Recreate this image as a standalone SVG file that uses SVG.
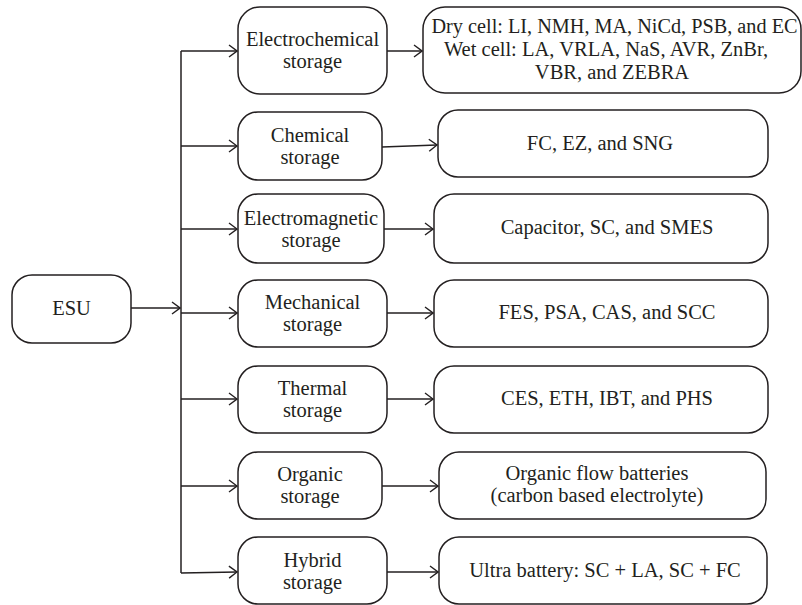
<svg xmlns="http://www.w3.org/2000/svg" width="802" height="605" viewBox="0 0 802 605">
<style>
.b{fill:#fff;stroke:#231f20;stroke-width:1.5}
.t{font-family:'Liberation Serif','Times New Roman',serif;font-size:20.5px;fill:#231f20;text-anchor:middle}
.c{fill:none;stroke:#231f20;stroke-width:1.5}
</style>
<defs>
<marker id="a" markerWidth="10" markerHeight="14" refX="9" refY="7" orient="auto" markerUnits="userSpaceOnUse">
<path d="M1,1 L9,7 L1,13" fill="none" stroke="#231f20" stroke-width="1.4"/>
</marker>
</defs>
<rect width="802" height="605" fill="#fff"/>
<g id="connectors">
<path class="c" d="M131,308 H180" marker-end="url(#a)"/>
<path class="c" d="M181,51 V573"/>
<path class="c" d="M181,51 H237" marker-end="url(#a)"/>
<path class="c" d="M181,146 H237" marker-end="url(#a)"/>
<path class="c" d="M181,229 H237" marker-end="url(#a)"/>
<path class="c" d="M181,313 H237" marker-end="url(#a)"/>
<path class="c" d="M181,399 H237" marker-end="url(#a)"/>
<path class="c" d="M181,486 H237" marker-end="url(#a)"/>
<path class="c" d="M181,573 L237,572" marker-end="url(#a)"/>
<path class="c" d="M387,51 H422" marker-end="url(#a)"/>
<path class="c" d="M382,147 L437,145" marker-end="url(#a)"/>
<path class="c" d="M384,229 H433" marker-end="url(#a)"/>
<path class="c" d="M387,313 H433" marker-end="url(#a)"/>
<path class="c" d="M387,399 H433" marker-end="url(#a)"/>
<path class="c" d="M382,486 H438" marker-end="url(#a)"/>
<path class="c" d="M387,572 H438" marker-end="url(#a)"/>
</g>
<g id="esu"><rect class="b" x="12" y="275" width="119" height="68" rx="20"/><text class="t" x="71.5" y="315">ESU</text></g>
<g id="electrochemical"><rect class="b" x="238" y="7" width="149" height="87" rx="22"/><text class="t" x="312.5" y="46">Electrochemical</text><text class="t" x="312.5" y="68">storage</text></g>
<g id="chemical"><rect class="b" x="238" y="112" width="144" height="68" rx="20"/><text class="t" x="310" y="142">Chemical</text><text class="t" x="310" y="164">storage</text></g>
<g id="electromagnetic"><rect class="b" x="238" y="194" width="146" height="69" rx="20"/><text class="t" x="311" y="225">Electromagnetic</text><text class="t" x="311" y="247">storage</text></g>
<g id="mechanical"><rect class="b" x="238" y="280" width="149" height="67" rx="20"/><text class="t" x="312.5" y="309">Mechanical</text><text class="t" x="312.5" y="331">storage</text></g>
<g id="thermal"><rect class="b" x="238" y="366" width="149" height="67" rx="20"/><text class="t" x="312.5" y="395">Thermal</text><text class="t" x="312.5" y="417">storage</text></g>
<g id="organic"><rect class="b" x="238" y="452" width="144" height="67" rx="20"/><text class="t" x="310" y="481">Organic</text><text class="t" x="310" y="503">storage</text></g>
<g id="hybrid"><rect class="b" x="238" y="537" width="149" height="67" rx="20"/><text class="t" x="312.5" y="567">Hybrid</text><text class="t" x="312.5" y="589">storage</text></g>
<g id="electrochemical-types"><rect class="b" x="423" y="7" width="378" height="86" rx="22"/><text class="t" x="614.5" y="33" textLength="366" lengthAdjust="spacingAndGlyphs">Dry cell: LI, NMH, MA, NiCd, PSB, and EC</text><text class="t" x="606" y="56">Wet cell: LA, VRLA, NaS, AVR, ZnBr,</text><text class="t" x="612" y="79">VBR, and ZEBRA</text></g>
<g id="chemical-types"><rect class="b" x="438" y="110" width="330" height="67" rx="20"/><text class="t" x="600" y="150">FC, EZ, and SNG</text></g>
<g id="electromagnetic-types"><rect class="b" x="434" y="194" width="334" height="69" rx="20"/><text class="t" x="607" y="234">Capacitor, SC, and SMES</text></g>
<g id="mechanical-types"><rect class="b" x="434" y="280" width="334" height="67" rx="20"/><text class="t" x="607" y="319">FES, PSA, CAS, and SCC</text></g>
<g id="thermal-types"><rect class="b" x="434" y="366" width="334" height="67" rx="20"/><text class="t" x="607" y="405">CES, ETH, IBT, and PHS</text></g>
<g id="organic-types"><rect class="b" x="439" y="452" width="327" height="67" rx="20"/><text class="t" x="597" y="480">Organic flow batteries</text><text class="t" x="597" y="502">(carbon based electrolyte)</text></g>
<g id="hybrid-types"><rect class="b" x="439" y="537" width="328" height="67" rx="20"/><text class="t" x="605" y="577">Ultra battery: SC + LA, SC + FC</text></g>
</svg>
